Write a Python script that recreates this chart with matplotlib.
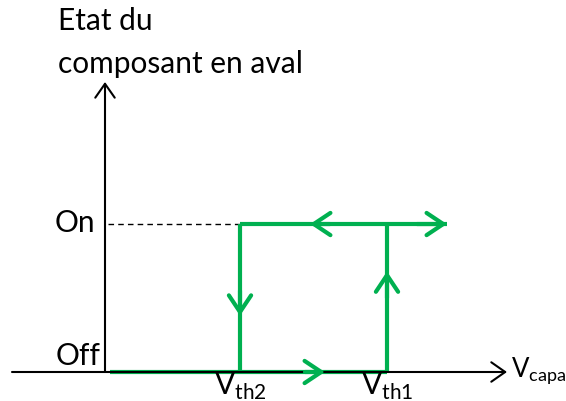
import matplotlib
matplotlib.use("Agg")
import matplotlib.pyplot as plt

# hysteresis of the downstream component vs capacitor voltage
vth2 = 1.35
vth1 = 2.82
v_end = 3.42
state_off = 0
state_on = 1
x_axis_span = (-0.93, 4.02)
y_axis_top = 1.96

# path: (x, y) points of the loop
bottom_x = [0.05, vth1]
top_x = [vth2, v_end]

green = "#00B050"
plt.rcParams['font.family'] = ['Lato', 'DejaVu Sans']

fig = plt.figure(figsize=(5.66, 4.01), dpi=100)
ax = fig.add_axes([0, 0, 1, 1])
ax.set_xlim(-1.05, 4.61)
ax.set_ylim(-0.196, 2.514)
ax.axis('off')

# axes with arrow heads
ax.annotate('', xy=(x_axis_span[1], state_off), xytext=(x_axis_span[0], state_off),
            arrowprops=dict(arrowstyle='->,head_length=0.5,head_width=0.35', color='black',
                            lw=1.5, shrinkA=0, shrinkB=0, mutation_scale=20))
ax.annotate('', xy=(0, y_axis_top), xytext=(0, state_off),
            arrowprops=dict(arrowstyle='->,head_length=0.5,head_width=0.35', color='black',
                            lw=1.5, shrinkA=0, shrinkB=0, mutation_scale=20))

# dashed guide for On level
ax.plot([0.03, vth2], [state_on, state_on], color='black', lw=1, ls=(0, (4, 3)))

# loop
ax.plot(bottom_x, [state_off, state_off], color=green, lw=3, solid_capstyle='butt')
ax.plot([vth1, vth1], [state_off, state_on], color=green, lw=3, solid_capstyle='butt')
ax.plot([vth2, vth2], [state_on, state_off], color=green, lw=3, solid_capstyle='butt')
ax.plot(top_x, [state_on, state_on], color=green, lw=3, solid_capstyle='butt')

chev = dict(arrowstyle='->,head_length=0.6,head_width=0.4', color=green, lw=3,
            shrinkA=0, shrinkB=0, mutation_scale=20)
# end arrow to the right
ax.annotate('', xy=(v_end, state_on), xytext=(v_end - 0.3, state_on), arrowprops=chev)
# direction marks along the loop
ax.annotate('', xy=(2.05, state_on), xytext=(2.25, state_on), arrowprops=chev)
ax.annotate('', xy=(2.2, state_off), xytext=(2.0, state_off), arrowprops=chev)
ax.annotate('', xy=(vth2, 0.38), xytext=(vth2, 0.55), arrowprops=chev)
ax.annotate('', xy=(vth1, 0.68), xytext=(vth1, 0.5), arrowprops=chev)

fs = 21.5
ax.text(-0.47, 2.37, 'Etat du', fontsize=fs, ha='left', va='center')
ax.text(-0.47, 2.08, 'composant en aval', fontsize=fs, ha='left', va='center')
ax.text(-0.1, state_on + 0.01, 'On', fontsize=fs, ha='right', va='center')
ax.text(-0.05, 0.11, 'Off', fontsize=fs, ha='right', va='center')
ax.text(vth2, -0.1, r'V$_{\mathregular{th2}}$', fontsize=fs, ha='center', va='center')
ax.text(vth1, -0.1, r'V$_{\mathregular{th1}}$', fontsize=fs, ha='center', va='center')
ax.text(x_axis_span[1] + 0.04, state_off + 0.01, r'V$_{\mathregular{capa}}$', fontsize=18.5,
        ha='left', va='center')

fig.savefig('out.png', dpi=100)
